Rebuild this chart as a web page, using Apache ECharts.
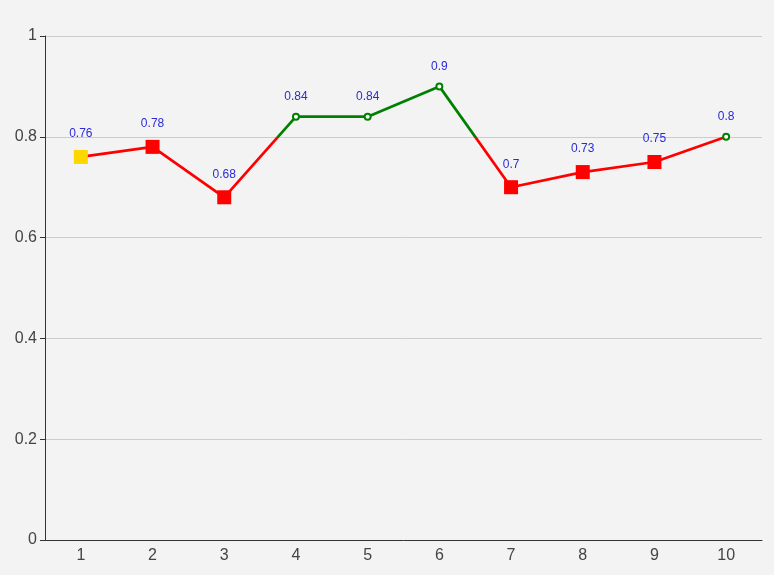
<!DOCTYPE html>
<html><head><meta charset="utf-8">
<script src="https://cdn.jsdelivr.net/npm/echarts@6/dist/echarts.min.js"></script>
<style>html,body{margin:0;padding:0;background:#f3f3f3}#c{width:774px;height:575px}</style>
</head><body><div id="c"></div>
<script>
var categories = ['1','2','3','4','5','6','7','8','9','10'];
var values = [0.76, 0.78, 0.68, 0.84, 0.84, 0.9, 0.7, 0.73, 0.75, 0.8];
var threshold = 0.8;

var chart = echarts.init(document.getElementById('c'));
chart.setOption({
  backgroundColor: '#f3f3f3',
  animation: false,
  grid: {left: 45, right: 12, top: 36, bottom: 35},
  xAxis: {
    type: 'category', data: categories, boundaryGap: true,
    axisLine: {lineStyle: {color: '#333'}},
    axisTick: {alignWithLabel: true, lineStyle: {color: '#333'}},
    axisLabel: {fontSize: 16, color: '#444', fontFamily: 'sans-serif'}
  },
  yAxis: {
    type: 'value', min: 0, max: 1, interval: 0.2,
    axisLine: {show: true, lineStyle: {color: '#333'}},
    axisTick: {show: true, lineStyle: {color: '#333'}},
    axisLabel: {fontSize: 16, color: '#444', fontFamily: 'sans-serif'},
    splitLine: {lineStyle: {color: '#ccc'}}
  },
  visualMap: {
    show: false, type: 'piecewise', seriesIndex: 0, dimension: 1,
    pieces: [{gte: 0, lt: threshold, color: '#ff0000'}, {gte: threshold, lte: 10, color: 'green'}],
    outOfRange: {color: '#ff0000'}
  },
  series: [
    {
      type: 'line', data: values, symbol: 'none',
      lineStyle: {width: 2.7}, z: 2
    },
    {
      type: 'scatter', data: values, z: 3,
      symbol: function (v) { return v >= threshold ? 'emptyCircle' : 'rect'; },
      symbolSize: function (v) { return v >= threshold ? 6 : 14; },
      itemStyle: {
        opacity: 1,
        color: function (p) {
          if (p.dataIndex === 0) return '#ffd700';
          return p.value >= threshold ? 'green' : '#ff0000';
        }
      },
      label: {show: true, position: 'top', distance: 10, fontSize: 12, color: '#2a2ad8', fontFamily: 'sans-serif'}
    }
  ]
});
</script></body></html>
